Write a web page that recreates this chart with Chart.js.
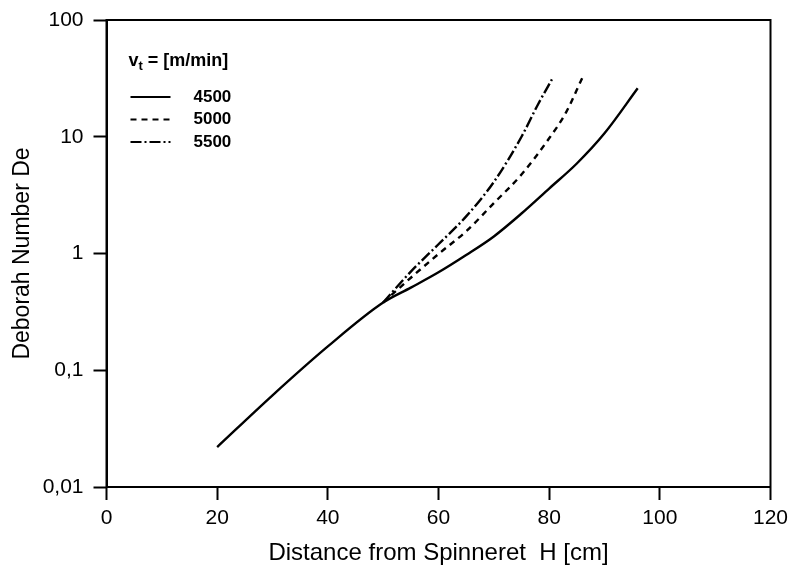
<!DOCTYPE html>
<html>
<head>
<meta charset="utf-8">
<script src="https://cdn.jsdelivr.net/npm/chart.js@4"></script>
<style>
    html, body { margin: 0; padding: 0; background: #fff; }
    #wrap { width: 790px; height: 571px; }
</style>
</head>
<body>
<div id="wrap"><canvas id="deChart" width="790" height="571"></canvas></div>
<script>
// 數據：紡絲距離 H [cm] 與 Deborah 數
const h4500 = [20, 30, 40, 50, 55, 60, 65, 70, 75, 80, 85, 90, 96];
const de4500 = [0.022, 0.061, 0.16, 0.38, 0.51, 0.69, 0.97, 1.4, 2.2, 3.6, 5.9, 10.7, 26];
const h5000 = [50, 55, 60, 65, 70, 75, 80, 83, 86];
const de5000 = [0.38, 0.62, 0.99, 1.55, 2.7, 4.75, 9.7, 16, 32];
const h5500 = [50, 55, 60, 65, 70, 75, 78, 80.5];
const de5500 = [0.38, 0.7, 1.2, 2.08, 4.1, 10, 19, 31];
const seriesNames = ['4500', '5000', '5500'];
const xTicks = [0, 20, 40, 60, 80, 100, 120];
const yTicks = [0.01, 0.1, 1, 10, 100];

const FONT = "'Liberation Sans', Arial, sans-serif";

function toPoints(xs, ys) {
    return xs.map(function (x, i) { return { x: x, y: ys[i] }; });
}

// 外框 + 圖內圖例
const framePlugin = {
    id: 'frame',
    afterDraw: function (chart) {
        const ctx = chart.ctx;
        const a = chart.chartArea;
        ctx.save();
        ctx.strokeStyle = '#000';
        ctx.lineWidth = 2;
        ctx.strokeRect(a.left, a.top, a.right - a.left, a.bottom - a.top);

        // legend title v_t = [m/min]
        const lx = a.left + 22;
        ctx.fillStyle = '#000';
        ctx.textBaseline = 'alphabetic';
        ctx.font = 'bold 18px ' + FONT;
        ctx.fillText('v', lx, 66);
        const vw = ctx.measureText('v').width;
        ctx.font = 'bold 13px ' + FONT;
        ctx.fillText('t', lx + vw, 70);
        const tw = ctx.measureText('t').width;
        ctx.font = 'bold 18px ' + FONT;
        ctx.fillText(' = [m/min]', lx + vw + tw, 66);

        chart.data.datasets.forEach(function (ds, i) {
            const y = 97 + i * 22.5;
            ctx.beginPath();
            ctx.setLineDash(ds.borderDash || []);
            ctx.lineWidth = 2;
            ctx.moveTo(lx + 2, y);
            ctx.lineTo(lx + 42, y);
            ctx.stroke();
            ctx.setLineDash([]);
            ctx.font = 'bold 17px ' + FONT;
            ctx.textBaseline = 'middle';
            ctx.fillText(ds.label, lx + 65, y);
        });
        ctx.restore();
    }
};

new Chart(document.getElementById('deChart'), {
    type: 'line',
    data: {
        datasets: [
            {
                label: seriesNames[0],
                data: toPoints(h4500, de4500),
                borderColor: '#000',
                borderWidth: 2.4,
                borderDash: []
            },
            {
                label: seriesNames[1],
                data: toPoints(h5000, de5000),
                borderColor: '#000',
                borderWidth: 2.4,
                borderDash: [6, 5]
            },
            {
                label: seriesNames[2],
                data: toPoints(h5500, de5500),
                borderColor: '#000',
                borderWidth: 2.4,
                borderDash: [11, 3, 2, 3]
            }
        ]
    },
    options: {
        responsive: false,
        animation: false,
        elements: { point: { radius: 0 }, line: { cubicInterpolationMode: 'monotone' } },
        layout: { padding: { top: 20, right: 19.5, left: 0, bottom: 0 } },
        plugins: {
            legend: { display: false },
            tooltip: { enabled: false }
        },
        scales: {
            x: {
                type: 'linear',
                min: 0,
                max: 120,
                afterBuildTicks: function (scale) {
                    scale.ticks = xTicks.map(function (v) { return { value: v }; });
                },
                afterFit: function (scale) {
                    scale.height = 84;
                    scale.paddingLeft = 0;
                    scale.paddingRight = 0;
                },
                ticks: {
                    color: '#000',
                    padding: 6,
                    font: { family: FONT, size: 21 }
                },
                grid: {
                    drawOnChartArea: false,
                    drawTicks: true,
                    tickLength: 13,
                    tickWidth: 2,
                    color: '#000'
                },
                border: { display: true, color: '#000', width: 2 },
                title: {
                    display: true,
                    text: 'Distance from Spinneret  H [cm]',
                    color: '#000',
                    padding: { top: 0, bottom: 3 },
                    font: { family: FONT, size: 24 }
                }
            },
            y: {
                type: 'logarithmic',
                min: 0.01,
                max: 100,
                afterBuildTicks: function (scale) {
                    scale.ticks = yTicks.map(function (v) { return { value: v }; });
                },
                afterFit: function (scale) {
                    scale.width = 106.5;
                    scale.paddingTop = 0;
                    scale.paddingBottom = 0;
                },
                ticks: {
                    color: '#000',
                    padding: 10,
                    font: { family: FONT, size: 21 },
                    callback: function (value) {
                        return String(value).replace('.', ',');
                    }
                },
                grid: {
                    drawOnChartArea: false,
                    drawTicks: true,
                    tickLength: 13,
                    tickWidth: 2,
                    color: '#000'
                },
                border: { display: true, color: '#000', width: 2 },
                title: {
                    display: true,
                    text: 'Deborah Number De',
                    color: '#000',
                    padding: { top: 9, bottom: 0 },
                    font: { family: FONT, size: 23 }
                }
            }
        }
    },
    plugins: [framePlugin]
});
</script>
</body>
</html>
